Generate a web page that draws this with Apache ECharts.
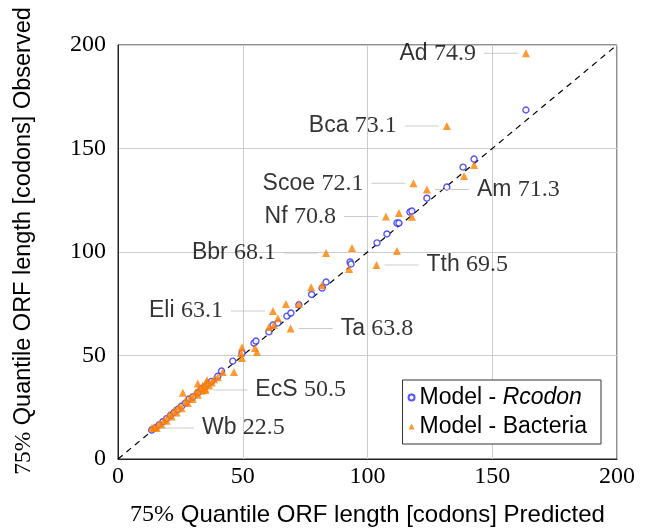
<!DOCTYPE html>
<html>
<head>
<meta charset="utf-8">
<script src="https://cdn.jsdelivr.net/npm/echarts@6/dist/echarts.min.js"></script>
<style>
  html, body { margin: 0; padding: 0; background: #fff; }
  #chart { width: 648px; height: 530px; }
</style>
</head>
<body>
<div id="chart"></div>
<script>
// Daten
var axisMin = 0;
var axisMax = 200;
var axisStep = 50;

// Model - Rcodon: [predicted, observed]
var rcodonPoints = [
    [13.5, 14], [15, 15], [16.5, 16.5], [18, 18], [19.5, 19.5], [21, 21],
    [22.5, 22.5], [24, 24], [25.5, 25.5], [27, 27], [28.5, 29], [30, 30],
    [32, 32], [33.5, 34], [35, 35], [36, 36.5], [37.5, 37.5], [40, 40],
    [41.5, 42.5], [46, 47.3], [49.7, 51.2], [54.5, 56], [55.3, 57],
    [60.5, 61.4], [62.1, 64.7], [64.1, 65.7], [67.7, 69], [69.3, 70.5],
    [72.5, 74.5], [77.6, 79.5], [81.8, 82.6], [83.4, 85.5], [93, 95.2],
    [93.4, 94.2], [103.8, 104.4], [107.8, 108.7], [111.8, 114], [112.6, 114],
    [117, 119.3], [117.8, 119.8], [123.8, 126], [131.8, 131.4], [138.3, 141],
    [142.7, 144.9], [163.5, 168.6]
];

// Model - Bacteria: [predicted, observed]
var bacteriaPoints = [
    [14.5, 15.5], [15.5, 15], [16.5, 17], [17.5, 16.5], [18.5, 19], [19.5, 18.5],
    [20.5, 21.5], [21.5, 20.5], [22.5, 23.5], [23.5, 22.5], [24.5, 25.5],
    [25.5, 24.5], [26, 32], [27, 28], [28, 27], [29, 30], [30, 29], [31, 32],
    [32, 31], [32, 36.5], [32.5, 34], [33.5, 33], [34, 35.5], [35, 34],
    [35.5, 37], [35.7, 38], [36.5, 35.5], [37.5, 37], [38.5, 38.5], [40, 39.5],
    [42, 42], [46.5, 42], [49.7, 48.8], [49.3, 51.2], [49.7, 54], [54.9, 53.6],
    [55.7, 51.7], [60.5, 63.8], [62.5, 64.7], [64.1, 68], [67.3, 74.9],
    [72.5, 74.9], [77.4, 83], [81.8, 84], [92.6, 91.8], [93.8, 101.9],
    [111.8, 100.5], [112.6, 118.8], [117.8, 117], [138.7, 136.7], [142.7, 142]
];

// beschriftete Punkte (Bacteria)
var labelNames = ['Ad', 'Bca', 'Scoe', 'Am', 'Nf', 'Bbr', 'Tth', 'Eli', 'Ta', 'EcS', 'Wb'];
var labelValues = ['74.9', '73.1', '72.1', '71.3', '70.8', '68.1', '69.5', '63.1', '63.8', '50.5', '22.5'];
var labelPoints = [
    [163.5, 196], [131.8, 160.9], [118.4, 133.2], [123.8, 130.2], [107.4, 117.2],
    [83.4, 99.5], [103.6, 93.7], [62.1, 71.5], [69.2, 63], [35, 33.3], [13.6, 15]
];
var labelSides = ['left', 'left', 'left', 'right', 'left', 'left', 'right', 'left', 'right', 'right', 'right'];

var blue = '#2b2bff';
var orange = '#ff8000';
var sans = '"Liberation Sans", Arial, sans-serif';
var serif = '"Liberation Serif", "Times New Roman", serif';

var labelRich = {
    n: { fontFamily: sans, fontSize: 23, color: '#000' },
    v: { fontFamily: serif, fontSize: 24, color: '#000' },
    g: { width: 8 },
    l: { width: 34, height: 1, backgroundColor: '#bdbdbd' }
};

var bacteriaData = bacteriaPoints.map(function (p) { return p; });
labelPoints.forEach(function (p, i) {
    var text = '{n|' + labelNames[i] + ' }{v|' + labelValues[i] + '}';
    var full = labelSides[i] === 'left' ? text + '{g|}{l|}' : '{l|}{g|}' + text;
    bacteriaData.push({
        value: p,
        label: {
            show: true,
            position: labelSides[i],
            distance: 4,
            formatter: full,
            rich: labelRich
        }
    });
});

var chart = echarts.init(document.getElementById('chart'));
var option = {
    backgroundColor: '#fff',
    animation: false,
    grid: {
        left: 118, right: 31, top: 45, bottom: 71,
        outerBoundsMode: 'none',
        containLabel: false,
        show: true, borderColor: '#222', borderWidth: 1
    },
    legend: {
        orient: 'vertical',
        right: 47,
        bottom: 86,
        data: ['Model - Rcodon', 'Model - Bacteria'],
        backgroundColor: '#fff',
        borderColor: '#333',
        borderWidth: 1,
        borderRadius: 0,
        padding: [6, 14, 6, 5],
        itemWidth: 6,
        itemHeight: 6,
        itemGap: 6,
        formatter: function (name) {
            if (name === 'Model - Rcodon') return '{a|Model - }{i|Rcodon}';
            return '{a|' + name + '}';
        },
        textStyle: {
            fontSize: 23,
            fontFamily: sans,
            color: '#000',
            rich: {
                a: { fontSize: 23, fontFamily: sans, color: '#000' },
                i: { fontSize: 23, fontFamily: sans, fontStyle: 'italic', color: '#000' }
            }
        }
    },
    xAxis: {
        type: 'value',
        min: axisMin, max: axisMax, interval: axisStep,
        name: '{s|75%} Quantile ORF length [codons] Predicted',
        nameLocation: 'middle',
        nameGap: 44,
        nameTextStyle: {
            fontFamily: sans, fontSize: 24, color: '#000',
            rich: { s: { fontFamily: serif, fontSize: 24, color: '#000' } }
        },
        axisLine: { lineStyle: { color: '#222' } },
        axisTick: { show: false },
        axisLabel: { fontFamily: serif, fontSize: 24, color: '#000', margin: 6 },
        splitLine: { lineStyle: { color: '#cccccc' } }
    },
    yAxis: {
        type: 'value',
        min: axisMin, max: axisMax, interval: axisStep,
        name: '{s|75%} Quantile ORF length [codons] Observed',
        nameLocation: 'middle',
        nameRotate: 90,
        nameGap: 82,
        nameTextStyle: {
            fontFamily: sans, fontSize: 23.5, color: '#000',
            padding: [0, 0, 0, 22],
            rich: { s: { fontFamily: serif, fontSize: 23.5, color: '#000' } }
        },
        axisLine: { lineStyle: { color: '#222' } },
        axisTick: { show: false },
        axisLabel: { fontFamily: serif, fontSize: 24, color: '#000', margin: 12 },
        splitLine: { lineStyle: { color: '#cccccc' } }
    },
    series: [
        {
            name: 'diagonal',
            type: 'line',
            data: [[axisMin, axisMin], [axisMax, axisMax]],
            showSymbol: false,
            silent: true,
            lineStyle: { color: '#000', width: 1.2, type: [6, 5] },
            z: 1
        },
        {
            name: 'Model - Rcodon',
            type: 'scatter',
            data: rcodonPoints,
            symbol: 'circle',
            symbolSize: 6,
            itemStyle: { color: '#fff', borderColor: blue, borderWidth: 1.4 },
            z: 3
        },
        {
            name: 'Model - Bacteria',
            type: 'scatter',
            data: bacteriaData,
            symbol: 'triangle',
            symbolSize: 8,
            itemStyle: { color: orange },
            z: 4
        }
    ]
};
chart.setOption(option);

window.addEventListener('resize', function () {
    chart.resize();
});
</script>
</body>
</html>
